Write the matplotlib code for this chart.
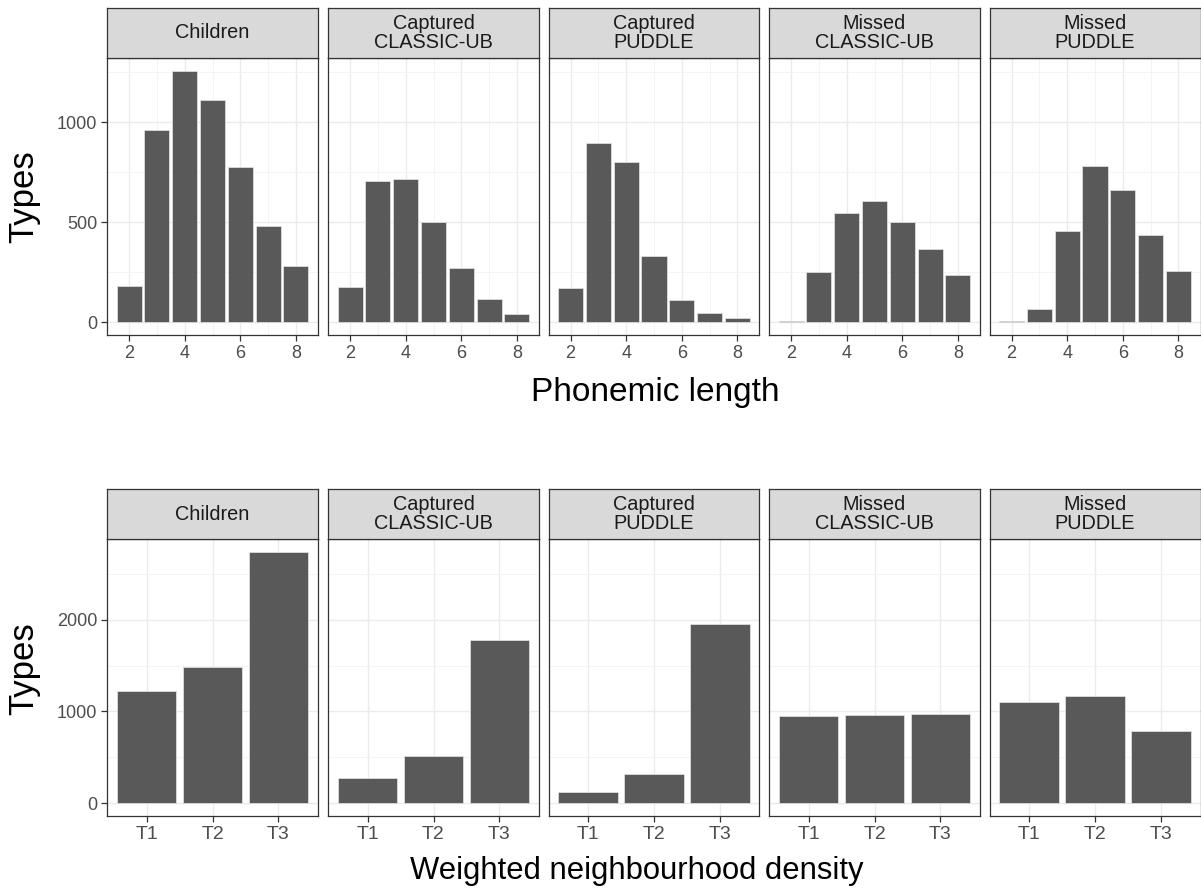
import matplotlib
matplotlib.use("Agg")
import matplotlib.pyplot as plt
import numpy as np

plt.rcParams["font.family"] = ["Liberation Sans", "DejaVu Sans"]

# facet titles
panels = ["Children", "Captured\nCLASSIC-UB", "Captured\nPUDDLE", "Missed\nCLASSIC-UB", "Missed\nPUDDLE"]

# top row: phonemic length 2..8
lengths = [2, 3, 4, 5, 6, 7, 8]
len_children = [183, 961, 1257, 1108, 775, 481, 280]
len_cap_classic = [175, 707, 714, 501, 273, 115, 43]
len_cap_puddle = [173, 895, 803, 329, 113, 45, 22]
len_miss_classic = [8, 253, 544, 607, 502, 366, 236]
len_miss_puddle = [8, 65, 454, 780, 663, 436, 258]

# bottom row: weighted neighbourhood density tertiles
tertiles = ["T1", "T2", "T3"]
wnd_children = [1228, 1482, 2739]
wnd_cap_classic = [272, 518, 1772]
wnd_cap_puddle = [123, 315, 1953]
wnd_miss_classic = [955, 965, 968]
wnd_miss_puddle = [1105, 1167, 786]

top_data = [len_children, len_cap_classic, len_cap_puddle, len_miss_classic, len_miss_puddle]
bot_data = [wnd_children, wnd_cap_classic, wnd_cap_puddle, wnd_miss_classic, wnd_miss_puddle]

W, H = 1201, 888
fig = plt.figure(figsize=(W / 100, H / 100), dpi=100)

lefts = [107, 328, 548.5, 769, 989.5]
pw = 211


def px_axes(x0, y0, x1, y1):
    # pixel box (top-left origin) -> figure axes
    return fig.add_axes([x0 / W, 1 - y1 / H, (x1 - x0) / W, (y1 - y0) / H])


def style_panel(ax):
    ax.set_facecolor("white")
    for s in ax.spines.values():
        s.set_color("#333333")
        s.set_linewidth(0.9)
    ax.tick_params(axis="both", colors="#333333", labelcolor="#4D4D4D",
                   labelsize=13, length=4, width=0.9, pad=3)
    ax.grid(True, which="major", color="#EBEBEB", linewidth=1.0)
    ax.grid(True, which="minor", color="#F3F3F3", linewidth=0.6)
    ax.set_axisbelow(True)


def strip(x0, y0, x1, y1, label):
    s = px_axes(x0, y0, x1, y1)
    s.set_facecolor("#D9D9D9")
    s.set_xticks([])
    s.set_yticks([])
    for sp in s.spines.values():
        sp.set_color("#333333")
        sp.set_linewidth(0.9)
    s.text(0.5, 0.5, label, ha="center", va="center", fontsize=14.3,
           color="#1A1A1A", linespacing=1.0, transform=s.transAxes)


# ---- top row
ymax_top = max(max(d) for d in top_data)
for i, (name, vals) in enumerate(zip(panels, top_data)):
    x0 = lefts[i]
    ax = px_axes(x0, 58, x0 + pw, 335)
    style_panel(ax)
    ax.bar(lengths, vals, width=0.9, color="#595959", edgecolor="#E6E6E6", linewidth=0.5, zorder=2)
    ax.set_xlim(1.205, 8.795)
    ax.set_ylim(-0.05 * ymax_top, 1.05 * ymax_top)
    ax.set_xticks([2, 4, 6, 8])
    ax.set_xticks([3, 5, 7], minor=True)
    ax.set_yticks([0, 500, 1000])
    ax.set_yticks([250, 750, 1250], minor=True)
    ax.tick_params(which="minor", length=0)
    if i > 0:
        ax.tick_params(axis="y", which="both", left=False, labelleft=False)
    strip(x0, 8, x0 + pw, 58, name)

# ---- bottom row
ymax_bot = max(max(d) for d in bot_data)
for i, (name, vals) in enumerate(zip(panels, bot_data)):
    x0 = lefts[i]
    ax = px_axes(x0, 539, x0 + pw, 816)
    style_panel(ax)
    pos = np.arange(1, len(tertiles) + 1)
    ax.bar(pos, vals, width=0.9, color="#595959", edgecolor="#E6E6E6", linewidth=0.5, zorder=2)
    ax.set_xlim(0.4, 3.6)
    ax.set_ylim(-0.05 * ymax_bot, 1.05 * ymax_bot)
    ax.set_xticks(pos)
    ax.set_xticklabels(tertiles)
    ax.tick_params(axis="x", labelsize=14)
    ax.set_yticks([0, 1000, 2000])
    ax.set_yticks([500, 1500, 2500], minor=True)
    ax.tick_params(which="minor", length=0)
    if i > 0:
        ax.tick_params(axis="y", which="both", left=False, labelleft=False)
    strip(x0, 489, x0 + pw, 539, name)

# axis titles
fig.text(655 / W, 1 - 401 / H, "Phonemic length", ha="center", va="baseline", fontsize=24, color="black")
fig.text(637 / W, 1 - 879 / H, "Weighted neighbourhood density", ha="center", va="baseline", fontsize=22.3, color="black")
fig.text(33 / W, 1 - 197 / H, "Types", ha="center", va="baseline", rotation=90,
         rotation_mode="anchor", fontsize=25, color="black")
fig.text(33 / W, 1 - 669 / H, "Types", ha="center", va="baseline", rotation=90,
         rotation_mode="anchor", fontsize=25, color="black")

fig.savefig("out.png", dpi=100, facecolor="white")
